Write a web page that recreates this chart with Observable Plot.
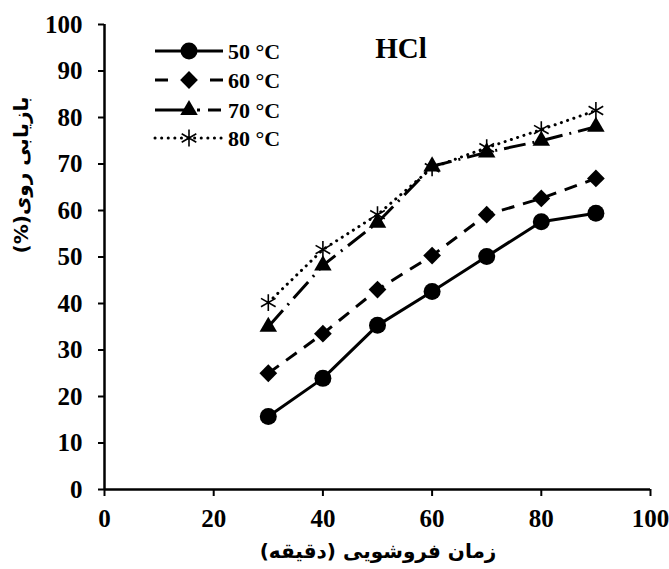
<!DOCTYPE html>
<html><head><meta charset="utf-8">
<script src="https://cdn.jsdelivr.net/npm/d3@7"></script>
<script src="https://cdn.jsdelivr.net/npm/@observablehq/plot@0.6"></script>
<style>
body{margin:0;background:#fff;font-family:"Liberation Serif","DejaVu Serif",serif;}
#wrap{position:relative;width:669px;height:569px;}
#wrap svg{position:absolute;left:0;top:0;}
</style></head>
<body><div id="wrap"></div>
<script>
const times = [30, 40, 50, 60, 70, 80, 90];
const series = ["50 °C", "60 °C", "70 °C", "80 °C"];
const v50 = [15.7, 23.9, 35.3, 42.6, 50.1, 57.6, 59.4];
const v60 = [25.0, 33.5, 43.0, 50.3, 59.1, 62.6, 66.9];
const v70 = [35.0, 48.2, 57.4, 69.5, 72.5, 75.0, 78.0];
const v80 = [40.2, 51.6, 59.1, 69.2, 73.5, 77.4, 81.5];
const xTicks = [0, 20, 40, 60, 80, 100];
const yTicks = [0, 10, 20, 30, 40, 50, 60, 70, 80, 90, 100];
const title = "HCl";
const xLabel = "زمان فروشویی (دقیقه)";
const yLabel = "بازیابی روی(%)";

const vals = [v50, v60, v70, v80];
const styles = [
  {dash: null, legendDash: null, symbol: "circle", r: 8.5, fill: true},
  {dash: "13,9", legendDash: "13,42", symbol: "diamond2", r: 8, fill: true},
  {dash: "22,7,2,7", legendDash: "34,8,3,8,13", symbol: "triangle", r: 6.5, fill: true},
  {dash: "0.1,6.5", legendDash: "0.1,6.5", symbol: "asterisk", r: 8, fill: false}
];
const data = [];
series.forEach((s, i) => times.forEach((t, j) => data.push({s, t, v: vals[i][j]})));

const marks = [
  Plot.ruleX([0], {strokeWidth: 2.5}),
  Plot.ruleY([0], {strokeWidth: 2.5}),
  Plot.axisX({ticks: xTicks, tickSize: 7, tickPadding: 13, fontSize: 25, fontWeight: "bold", label: null, strokeWidth: 2}),
  Plot.axisY({ticks: yTicks, tickSize: 6, tickPadding: 16, fontSize: 25, fontWeight: "bold", label: null, strokeWidth: 2})
];
series.forEach((s, i) => {
  const st = styles[i];
  const d = data.filter(e => e.s === s);
  marks.push(Plot.line(d, {x: "t", y: "v", stroke: "black", strokeWidth: 3, strokeDasharray: st.dash, strokeLinecap: i === 3 ? "round" : "butt"}));
  marks.push(Plot.dot(d, {x: "t", y: "v", symbol: () => st.symbol, r: st.r, fill: st.fill ? "black" : "none", stroke: "black", strokeWidth: st.fill ? 0 : 1.6}));
});

const chart = Plot.plot({
  width: 669, height: 569,
  marginLeft: 104, marginRight: 19, marginTop: 24, marginBottom: 80,
  style: {fontFamily: "Liberation Serif, DejaVu Serif, serif", color: "black", background: "white"},
  x: {domain: [0, 100]},
  y: {domain: [0, 100]},
  symbol: {type: "identity"},
  marks
});
document.getElementById("wrap").appendChild(chart);

// overlay: title, legend, axis labels
const ov = d3.select("#wrap").append("svg").attr("width", 669).attr("height", 569)
  .style("font-family", "Liberation Serif, DejaVu Serif, serif").style("font-weight", "bold");
ov.append("text").attr("x", 401).attr("y", 58).attr("text-anchor", "middle").attr("font-size", 29).text(title);
ov.append("text").attr("x", 378).attr("y", 558).attr("text-anchor", "middle").attr("font-size", 20)
  .attr("font-family", "DejaVu Sans").attr("direction", "rtl").text(xLabel);
ov.append("text").attr("transform", "translate(28,175) rotate(-90)").attr("text-anchor", "middle").attr("font-size", 20)
  .attr("font-family", "DejaVu Sans").attr("direction", "rtl").text(yLabel);
const rowsY = [51, 80, 110, 138];
const symMap = {circle: d3.symbolCircle, diamond2: d3.symbolDiamond2, triangle: d3.symbolTriangle, asterisk: d3.symbolAsterisk};
series.forEach((s, i) => {
  const st = styles[i];
  const y = rowsY[i];
  ov.append("line").attr("x1", 155).attr("x2", 223).attr("y1", y).attr("y2", y)
    .attr("stroke", "black").attr("stroke-width", 3)
    .attr("stroke-dasharray", st.legendDash).attr("stroke-linecap", i === 3 ? "round" : "butt");
  ov.append("path").attr("transform", `translate(189,${y})`)
    .attr("d", d3.symbol(symMap[st.symbol], Math.PI * st.r * st.r)())
    .attr("fill", st.fill ? "black" : "none").attr("stroke", st.fill ? "none" : "black").attr("stroke-width", 1.6);
  ov.append("text").attr("x", 228).attr("y", y + 8).attr("font-size", 22).text(s);
});
</script></body></html>
